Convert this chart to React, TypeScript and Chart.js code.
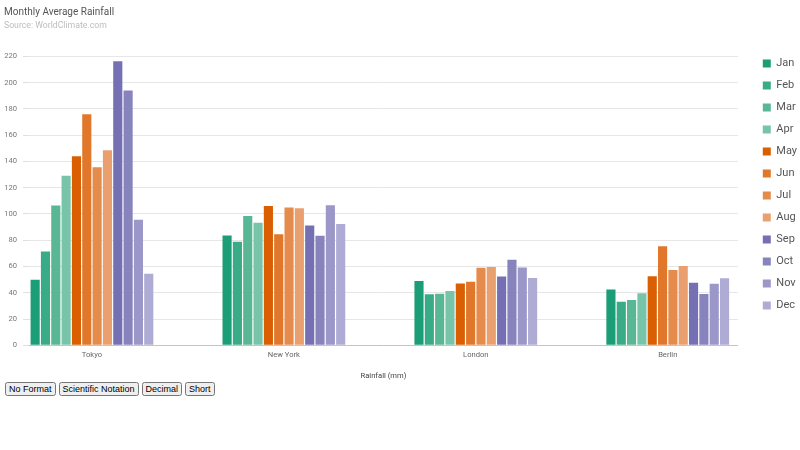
import React, { useEffect, useRef } from 'react';
import { Chart, registerables } from 'chart.js';

Chart.register(...registerables);

const cities = ['Tokyo', 'New York', 'London', 'Berlin'];
const months = ['Jan', 'Feb', 'Mar', 'Apr', 'May', 'Jun', 'Jul', 'Aug', 'Sep', 'Oct', 'Nov', 'Dec'];
const monthColors = [
  '#1b9e77', '#3aab87', '#5ab796', '#78c4a8',
  '#d95f02', '#e0772a', '#e58c4d', '#eaa06e',
  '#7570b3', '#8783bd', '#9b97c9', '#aeabd4',
];
const tokyo = [49.9, 71.5, 106.4, 129.2, 144.0, 176.0, 135.6, 148.5, 216.4, 194.1, 95.6, 54.4];
const newYork = [83.6, 78.8, 98.5, 93.4, 106.0, 84.5, 105.0, 104.3, 91.2, 83.5, 106.6, 92.3];
const london = [48.9, 38.8, 39.3, 41.4, 47.0, 48.3, 59.0, 59.6, 52.4, 65.2, 59.3, 51.2];
const berlin = [42.4, 33.2, 34.5, 39.7, 52.6, 75.5, 57.4, 60.4, 47.6, 39.1, 46.8, 51.1];
const cityValues = [tokyo, newYork, london, berlin];
const yMin = 0;
const yMax = 220;
const yStep = 20;
const buttonLabels = ['No Format', 'Scientific Notation', 'Decimal', 'Short'];

const FONT = 'Roboto';

export default function App() {
  const canvasRef = useRef<HTMLCanvasElement | null>(null);

  useEffect(() => {
    if (!canvasRef.current) return;
    const datasets = months.map((m, mi) => ({
      label: m,
      data: cities.map((_, ci) => ({ x: ci, y: cityValues[ci][mi] })),
      backgroundColor: monthColors[mi],
      borderWidth: 0,
      xAxisID: 'x',
      yAxisID: 'y',
      categoryPercentage: 0.6458,
      barPercentage: 0.885,
    }));
    const chart = new Chart(canvasRef.current, {
      type: 'bar',
      data: { datasets },
      options: {
        responsive: false,
        animation: false,
        layout: { padding: { left: 4, right: -7, top: 0, bottom: 0 } },
        plugins: {
          title: {
            display: true,
            text: 'Monthly Average Rainfall',
            align: 'start',
            color: '#555',
            font: { family: FONT, size: 10, weight: 'normal', lineHeight: 1 },
            padding: { top: 7, bottom: 0 },
          },
          subtitle: {
            display: true,
            text: 'Source: WorldClimate.com',
            align: 'start',
            color: '#bdbdbd',
            font: { family: FONT, size: 8.7, weight: 'normal', lineHeight: 1.2 },
            padding: { top: 4, bottom: 0 },
          },
          legend: {
            position: 'right',
            align: 'start',
            title: {
              display: true,
              text: '',
              font: { family: FONT, size: 10, lineHeight: 1.2 },
              padding: { top: 35, bottom: 0 },
            },
            labels: {
              boxWidth: 8,
              boxHeight: 8,
              padding: 11,
              color: '#555',
              font: { family: FONT, size: 11 },
            },
          },
          tooltip: { enabled: false },
        },
        scales: {
          x: {
            type: 'linear',
            position: 'bottom',
            offset: false,
            bounds: 'data',
            min: -0.328,
            max: 3.365,
            afterBuildTicks: (s: any) => {
              s.ticks = cities.map((_, i) => ({ value: i }));
            },
            grid: { display: false, drawTicks: false, tickLength: 0, offset: false },
            border: { display: true, color: '#c4c4c4' },
            ticks: {
              callback: (v: any) => cities[v as number] ?? '',
              color: '#666',
              font: { family: FONT, size: 7.6 },
              padding: 5,
              maxRotation: 0,
              autoSkip: false,
            },
            title: {
              display: true,
              text: 'Rainfall (mm)',
              color: '#444',
              font: { family: FONT, size: 7.6 },
              padding: { top: 7.5, bottom: 0 },
            },
          },
          y: {
            type: 'linear',
            position: 'left',
            min: yMin,
            max: yMax,
            ticks: {
              stepSize: yStep,
              padding: 6,
              color: '#777',
              font: { family: FONT, size: 7.6 },
            },
            grid: { color: '#e6e6e6', tickLength: 6, tickColor: '#e0e0e0' },
            border: { display: false },
            afterFit: (s: any) => {
              s.width = 25;
            },
          },
          xTop: {
            type: 'linear',
            position: 'top',
            display: true,
            grid: { display: false, drawTicks: false },
            border: { display: false },
            ticks: { display: false },
            afterFit: (s: any) => {
              s.height = 25;
            },
          },
          yRight: {
            type: 'linear',
            position: 'right',
            display: true,
            grid: { display: false, drawTicks: false },
            border: { display: false },
            ticks: { display: false },
            afterFit: (s: any) => {
              s.width = 14;
            },
          },
        },
      } as any,
    });
    return () => chart.destroy();
  }, []);

  return (
    <div style={{ position: 'absolute', left: 0, top: 0, width: 800 }}>
      <canvas ref={canvasRef} width={800} height={381} style={{ display: 'block' }} />
      <div style={{ paddingLeft: 5, marginTop: 1, fontSize: 0 }}>
        {buttonLabels.map((b) => (
          <button
            key={b}
            style={{
              font: '9px Arial, "Liberation Sans", sans-serif',
              lineHeight: '10px',
              padding: '0 2px',
              marginRight: 3,
            }}
          >
            {b}
          </button>
        ))}
      </div>
    </div>
  );
}
